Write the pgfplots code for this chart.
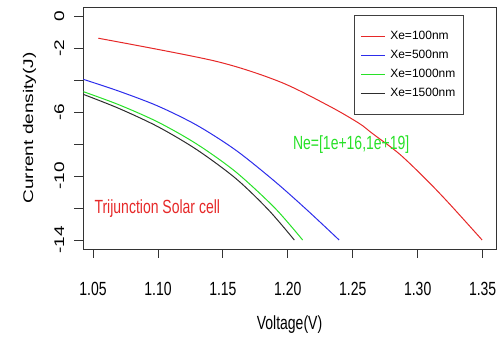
\documentclass[border=0pt]{standalone}
\usepackage{fontspec}
\setmainfont{Liberation Sans}
\usepackage{pgfplots}
\pgfplotsset{compat=1.18}
\definecolor{cRed}{RGB}{230,40,40}
\definecolor{cBlue}{RGB}{45,45,235}
\definecolor{cGreen}{RGB}{40,225,40}
\definecolor{cBlack}{RGB}{45,45,45}
\begin{document}
\begin{tikzpicture}[x=1pt,y=1pt]
\begin{axis}[
  scale only axis,
  width=413pt, height=242pt,
  xmin=1.0423, xmax=1.3603,
  ymin=-14.5625, ymax=0.5625,
  axis line style={black!80, line width=0.8pt},
  tick style={black!80, line width=0.8pt},
  tick align=outside,
  major tick length=9pt,
  xtick={1.05,1.10,1.15,1.20,1.25,1.30,1.35},
  xticklabels={1.05,1.10,1.15,1.20,1.25,1.30,1.35},
  ytick={-14,-12,-10,-8,-6,-4,-2,0},
  yticklabels={-14,,-10,,-6,,-2,0},
  xtick pos=bottom, ytick pos=left,
  xticklabel style={font=\fontsize{14}{16}\selectfont, yscale=1.36, anchor=base},
  yticklabel style={font=\fontsize{14}{16}\selectfont, yscale=1.36, rotate=90, anchor=base},
  xticklabel shift=38pt,
  yticklabel shift=10pt,
  every axis x label/.style={at={(rel axis cs:0.5,0)}, anchor=base, yshift=-81pt, font=\fontsize{14}{16}\selectfont, yscale=1.36},
  every axis y label/.style={at={(rel axis cs:0,0.5)}, yscale=1.36, rotate=90, anchor=base, yshift=50pt, font=\fontsize{14}{16}\selectfont},
  xlabel={Voltage(V)},
  ylabel={Current density(J)},
  clip=true,
  legend style={at={(rel axis cs:0.6562,0.967)}, anchor=north west, draw=black!75, line width=0.6pt,
    font=\fontsize{12}{14}\selectfont, inner xsep=6pt, inner ysep=14pt, row sep=5pt, column sep=3pt,
    nodes={inner sep=2pt, text height=8pt, text depth=2pt}},
  legend cell align=left,
  legend image code/.code={\draw[#1, line width=1pt] (0pt,0pt) -- (24pt,0pt);},
]
\addplot[cRed, line width=1pt, smooth, tension=0.5] coordinates {
(1.0541,-1.39) (1.1436,-2.81) (1.1935,-4.10) (1.2319,-5.63) (1.2549,-6.71)
(1.2649,-7.33) (1.2856,-8.60) (1.3063,-10.20) (1.3240,-11.70) (1.3496,-14.0)};
\addlegendentry{Xe=100nm}
\addplot[cBlue, line width=1pt, smooth] coordinates {
(1.0426,-3.96) (1.07,-4.70) (1.10,-5.63) (1.13,-6.83) (1.16,-8.39) (1.19,-10.34) (1.215,-12.14) (1.2395,-14.0)};
\addlegendentry{Xe=500nm}
\addplot[cGreen, line width=1pt, smooth] coordinates {
(1.0426,-4.73) (1.07,-5.55) (1.10,-6.63) (1.13,-8.01) (1.16,-9.75) (1.19,-12.00) (1.2114,-14.0)};
\addlegendentry{Xe=1000nm}
\addplot[cBlack, line width=1pt, smooth] coordinates {
(1.0426,-4.90) (1.07,-5.78) (1.10,-6.92) (1.13,-8.36) (1.16,-10.16) (1.185,-12.11) (1.205,-14.0)};
\addlegendentry{Xe=1500nm}
\node[text=cRed, font=\fontsize{14}{16}\selectfont, yscale=1.36, anchor=base] at (axis cs:1.0995,-12.35) {Trijunction Solar cell};
\node[text=cGreen, font=\fontsize{14}{16}\selectfont, yscale=1.36, anchor=base] at (axis cs:1.2488,-8.375) {Ne=[1e+16,1e+19]};
\coordinate (bbSW) at (rel axis cs:-0.201,-0.397);
\coordinate (bbNE) at (rel axis cs:1.0121,1.0289);
\end{axis}
\pgfresetboundingbox
\path[use as bounding box] (bbSW) rectangle (bbNE);
\end{tikzpicture}
\end{document}
